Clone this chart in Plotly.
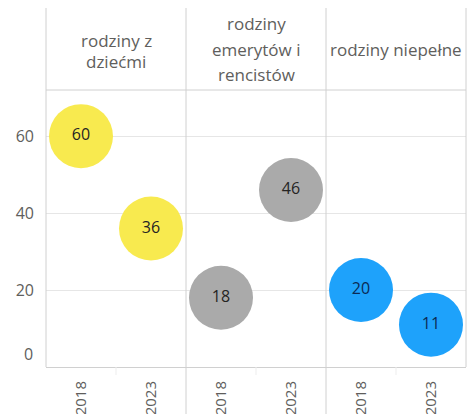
import plotly.graph_objects as go

categories = [["rodziny z", "dziećmi"], ["rodziny", "emerytów i", "rencistów"], ["rodziny niepełne"]]
years = ["2018", "2023"]
values = {
    "rodziny z dziećmi": [60, 36],
    "rodziny emerytów i rencistów": [18, 46],
    "rodziny niepełne": [20, 11],
}
colors = ["#F8EA4F", "#AAAAAA", "#1EA2FB"]
label_colors = ["#252423", "#252423", "#0B2A55"]
y_ticks = [20, 40, 60]

# the page has an 8px body margin, so the figure is drawn 8px right/down
W, H = 467, 406
L, R, T, B = 38, 9, 82, 47
FONT = "Open Sans, Noto Sans, sans-serif"
GRID = "#E6E6E6"
LINE = "#D0D0D0"
TXT = "#605E5C"

fig = go.Figure()
xs_all, ticktext = [], []
for i, (name, vals) in enumerate(values.items()):
    xs = [2 * i + 0.5, 2 * i + 1.5]
    xs_all += xs
    ticktext += years
    fig.add_trace(go.Scatter(
        x=xs, y=vals, mode="markers+text",
        text=[str(v) for v in vals], textposition="middle center",
        textfont=dict(family=FONT, size=16, color=label_colors[i]),
        marker=dict(size=64, color=colors[i], line=dict(width=0), opacity=1),
        showlegend=False, hoverinfo="skip", cliponaxis=False,
    ))

fig.update_layout(
    width=W, height=H, margin=dict(l=L, r=R, t=T, b=B, autoexpand=False),
    paper_bgcolor="white", plot_bgcolor="white",
    font=dict(family=FONT, color=TXT),
)
fig.update_xaxes(
    range=[0, 6], tickvals=xs_all, ticktext=ticktext, tickangle=-90,
    tickfont=dict(size=15, color=TXT), showgrid=False, zeroline=False,
    showline=True, linecolor=LINE, linewidth=1, ticks="", ticklabelstandoff=7,
    fixedrange=True, automargin=False,
)
fig.update_yaxes(
    range=[0, 72], tickvals=y_ticks, ticktext=[str(v) for v in y_ticks],
    tickfont=dict(size=16, color=TXT), showgrid=True, gridcolor=GRID,
    gridwidth=1, zeroline=False, showline=False, ticks="", ticklabelstandoff=11,
    fixedrange=True, automargin=False,
)

# "0" label (drawn slightly above the axis line as in reference)
fig.add_annotation(x=0, xref="paper", xanchor="right", xshift=-11, y=3.4, yref="y",
                   text="0", showarrow=False, font=dict(size=16, color=TXT))

plot_h = H - T - B
top_paper = 1 + T / plot_h
bottom_paper = -B / plot_h

# header lines
fig.add_shape(type="line", xref="paper", yref="paper", x0=0, x1=1, y0=1, y1=1,
              line=dict(color=LINE, width=1))
fig.add_shape(type="line", xref="paper", yref="paper", x0=0, x1=0, y0=0, y1=top_paper,
              line=dict(color=LINE, width=1))
fig.add_shape(type="line", xref="paper", yref="paper", x0=1, x1=1, y0=0, y1=top_paper,
              line=dict(color=LINE, width=1))
for xv in [2, 4]:
    fig.add_shape(type="line", xref="x", yref="paper", x0=xv, x1=xv, y0=bottom_paper, y1=top_paper,
                  line=dict(color=LINE, width=1))
for xv in [1, 3, 5]:
    fig.add_shape(type="line", xref="x", yref="paper", x0=xv, x1=xv, y0=-8 / plot_h, y1=0,
                  line=dict(color="#EDEDED", width=1))

# header category labels, one annotation per line (pixel rows from figure top)
line_rows = [[32, 54], [16, 41, 66], [42]]
for i, (lines, rows) in enumerate(zip(categories, line_rows)):
    for txt, row in zip(lines, rows):
        fig.add_annotation(x=2 * i + 1, xref="x", y=1 + (T - row) / plot_h, yref="paper",
                           text=txt, showarrow=False, align="center",
                           font=dict(size=17, color=TXT), yanchor="middle")

fig.write_html("out.html")
